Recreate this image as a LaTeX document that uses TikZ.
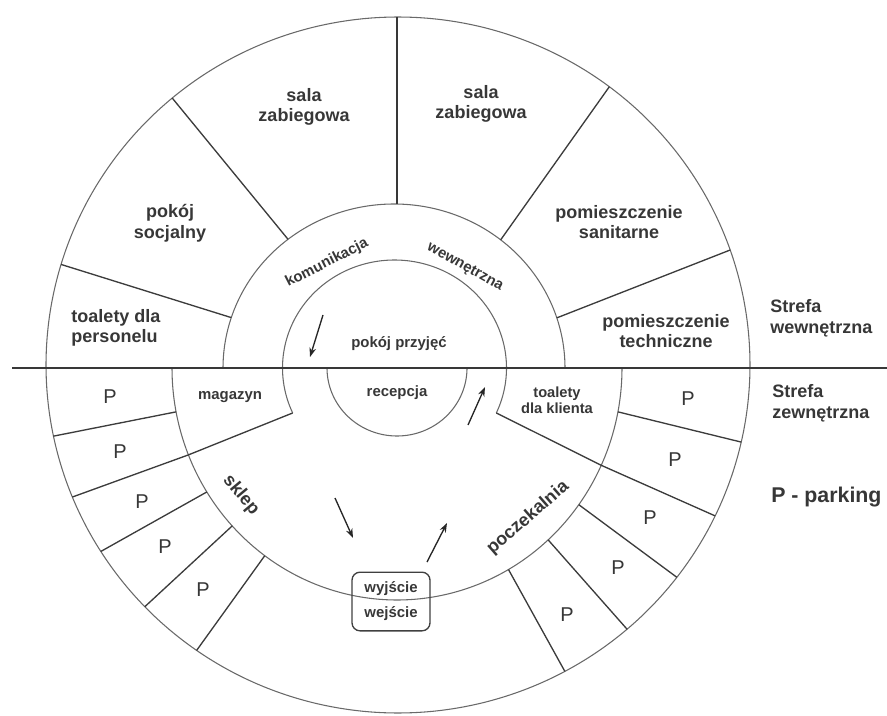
\documentclass[tikz,border=0pt]{standalone}
\usepackage{fontspec}
\setmainfont{Liberation Sans}
\usetikzlibrary{arrows.meta}
\definecolor{txt}{RGB}{55,55,55}
\definecolor{arcc}{RGB}{105,105,105}
\definecolor{divc}{RGB}{60,60,60}
\begin{document}
\begin{tikzpicture}[x=0.75pt,y=-0.75pt,
  arcl/.style={draw=arcc,line width=0.8pt},
  divl/.style={draw=divc,line width=1pt},
  mainl/.style={draw=black!78,line width=1.7pt},
  big/.style={font=\bfseries\fontsize{13.5}{15.5}\selectfont,text=txt,align=center,inner sep=0pt},
  small/.style={font=\bfseries\fontsize{11.2}{12}\selectfont,text=txt,align=center,inner sep=0pt},
  plabel/.style={font=\fontsize{15}{18}\selectfont,text=txt,inner sep=0pt},
  flow/.style={draw=black!85,line width=1pt,-{Stealth[length=7pt,width=5pt]}}]
\useasboundingbox (0,0) rectangle (887,716);
% rings
\draw[arcl] plot[domain=0:360,samples=200,smooth] ({398+352*cos(\x)},{365+348*sin(\x)}) -- cycle;
\draw[arcl] plot[domain=180:360,samples=100,smooth] ({394+171*cos(\x)},{368+164*sin(\x)});
\draw[arcl] plot[domain=155.4:384.6,samples=120,smooth] ({394.5+112*cos(\x)},{368+108*sin(\x)});
\draw[arcl] plot[domain=0:180,samples=120,smooth] ({397+225*cos(\x)},{368+232*sin(\x)});
\draw[arcl] plot[domain=0:180,samples=80,smooth] ({397+70*cos(\x)},{368+68*sin(\x)});
% zone line
\coordinate (zl) at (12,368);
\coordinate (zr) at (887,368);
\draw[mainl] (zl) -- (zr);
% upper dividers
\coordinate (o1) at (397,17);
\coordinate (u1) at (397,204);
\coordinate (o2) at ({398+352*cos(230.1)},{365+348*sin(230.1)});
\coordinate (u2) at ({394+171*cos(231.7)},{368+164*sin(231.7)});
\coordinate (o3) at ({398+352*cos(196.8)},{365+348*sin(196.8)});
\coordinate (u3) at ({394+171*cos(197.9)},{368+164*sin(197.9)});
\coordinate (o4) at ({398+352*cos(306.9)},{365+348*sin(306.9)});
\coordinate (u4) at ({394+171*cos(308.6)},{368+164*sin(308.6)});
\coordinate (o5) at ({398+352*cos(340.7)},{365+348*sin(340.7)});
\coordinate (u5) at ({394+171*cos(342.2)},{368+164*sin(342.2)});
\draw[mainl,line width=1.4pt] (o1) -- (u1);
\draw[divl] (o2) -- (u2);
\draw[divl] (o3) -- (u3);
\draw[divl] (o4) -- (u4);
\draw[divl] (o5) -- (u5);
% lower left dividers
\coordinate (la1) at ({397+225*cos(169.1)},{368+232*sin(169.1)});
\coordinate (la2) at ({398+352*cos(168.2)},{365+348*sin(168.2)});
\coordinate (lm0) at ({394.5+112*cos(155.4)},{368+108*sin(155.4)});
\coordinate (lm1) at ({397+225*cos(158)},{368+232*sin(158)});
\coordinate (lm2) at ({398+352*cos(157.7)},{365+348*sin(157.7)});
\coordinate (lc1) at ({397+225*cos(147.7)},{368+232*sin(147.7)});
\coordinate (lc2) at ({398+352*cos(147.6)},{365+348*sin(147.6)});
\coordinate (ld1) at ({397+225*cos(137.1)},{368+232*sin(137.1)});
\coordinate (ld2) at ({398+352*cos(136.0)},{365+348*sin(136.0)});
\coordinate (le1) at ({397+225*cos(126)},{368+232*sin(126)});
\coordinate (le2) at ({398+352*cos(124.9)},{365+348*sin(124.9)});
\draw[divl] (la1) -- (la2);
\draw[divl] (lm0) -- (lm1) -- (lm2);
\draw[divl] (lc1) -- (lc2);
\draw[divl] (ld1) -- (ld2);
\draw[divl] (le1) -- (le2);
% lower right dividers
\coordinate (rt0) at ({394.5+112*cos(24.6)},{368+108*sin(24.6)});
\coordinate (rt1) at ({397+225*cos(24.8)},{368+232*sin(24.8)});
\coordinate (rt2) at ({398+352*cos(25.7)},{365+348*sin(25.7)});
\coordinate (ra1) at ({397+225*cos(10.9)},{368+232*sin(10.9)});
\coordinate (ra2) at ({398+352*cos(12.8)},{365+348*sin(12.8)});
\coordinate (rc1) at ({397+225*cos(36.1)},{368+232*sin(36.1)});
\coordinate (rc2) at ({398+352*cos(37.6)},{365+348*sin(37.6)});
\coordinate (rd1) at ({397+225*cos(47.8)},{368+232*sin(47.8)});
\coordinate (rd2) at ({398+352*cos(49.4)},{365+348*sin(49.4)});
\coordinate (re1) at ({397+225*cos(60.3)},{368+232*sin(60.3)});
\coordinate (re2) at ({398+352*cos(61.7)},{365+348*sin(61.7)});
\draw[divl] (rt0) -- (rt1) -- (rt2);
\draw[divl] (ra1) -- (ra2);
\draw[divl] (rc1) -- (rc2);
\draw[divl] (rd1) -- (rd2);
\draw[divl] (re1) -- (re2);
% room labels
\node[big] (salaL) at (304,107) {sala\\zabiegowa};
\node[big] (salaR) at (481,104) {sala\\zabiegowa};
\node[big] (socj) at (170,223) {pokój\\socjalny};
\node[big] (sanit) at (619,222) {pomieszczenie\\sanitarne};
\node[big,align=left] (toalP) at (116,328) {toalety dla\\personelu};
\node[big] (techn) at (666,331) {pomieszczenie\\techniczne};
\node[big,align=left,anchor=west] (strW) at (770,318) {Strefa\\wewnętrzna};
\node[big,align=left,anchor=west] (strZ) at (772,403) {Strefa\\zewnętrzna};
\node[big,anchor=west,font=\bfseries\fontsize{16}{18}\selectfont] (park) at (771,497) {P - parking};
\node[small,rotate=27] (komu) at (327,263) {komunikacja};
\node[small,rotate=-29] (wewn) at (465,267) {wewnętrzna};
\node[small] (przy) at (399,344) {pokój przyjęć};
\node[small] (rec) at (397,393) {recepcja};
\node[small] (mag) at (230,397) {magazyn};
\node[small,font=\bfseries\fontsize{11}{12}\selectfont] (toalK) at (557,400) {toalety\\dla klienta};
\node[big,rotate=-50] (sklep) at (241,495) {sklep};
\node[big,rotate=41] (pocz) at (528,518) {poczekalnia};
% parking labels
\node[plabel] (pL1) at (110,397) {P};
\node[plabel] (pL2) at (120,452) {P};
\node[plabel] (pL3) at (142,502) {P};
\node[plabel] (pL4) at (165,547) {P};
\node[plabel] (pL5) at (203,590) {P};
\node[plabel] (pR1) at (688,399) {P};
\node[plabel] (pR2) at (675,460) {P};
\node[plabel] (pR3) at (650,518) {P};
\node[plabel] (pR4) at (618,568) {P};
\node[plabel] (pR5) at (567,615) {P};
% exit box
\node[small,draw=black!75,line width=1pt,rounded corners=6pt,minimum width=58.5pt,minimum height=44pt,
  font=\bfseries\fontsize{11.2}{18.7}\selectfont] (exit) at (391,601.5) {wyjście\\wejście};
% flow arrows
\coordinate (a1s) at (323,315); \coordinate (a1e) at (310,357);
\coordinate (a2s) at (468,425); \coordinate (a2e) at (485,387);
\coordinate (a3s) at (335,498); \coordinate (a3e) at (353,538);
\coordinate (a4s) at (427,562); \coordinate (a4e) at (447,523);
\draw[flow] (a1s) -- (a1e);
\draw[flow] (a2s) -- (a2e);
\draw[flow] (a3s) -- (a3e);
\draw[flow] (a4s) -- (a4e);
\end{tikzpicture}
\end{document}
